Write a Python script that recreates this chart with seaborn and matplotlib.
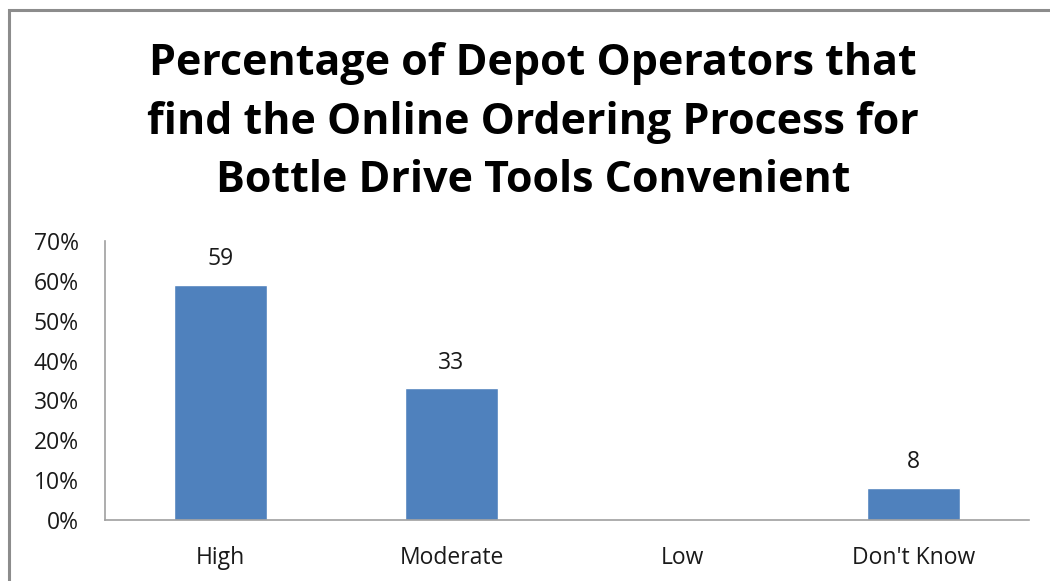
import matplotlib
matplotlib.use("Agg")
import matplotlib.pyplot as plt
from matplotlib.patches import Rectangle
import seaborn as sns
import pandas as pd

categories = ["High", "Moderate", "Low", "Don't Know"]
percentages = [59, 33, 0, 8]
value_labels = ["59", "33", "", "8"]
y_ticks = [0, 10, 20, 30, 40, 50, 60, 70]
tick_labels = ["0%", "10%", "20%", "30%", "40%", "50%", "60%", "70%"]
title = ("Percentage of Depot Operators that\n"
         "find the Online Ordering Process for\n"
         "Bottle Drive Tools Convenient")

bar_color = "#4F81BD"
axis_color = "#A0A0A0"
text_color = "#1A1A1A"

sns.set_theme(style="white")
plt.rcParams["font.family"] = ["Open Sans", "DejaVu Sans"]

df = pd.DataFrame({"category": categories, "pct": percentages})

W, H = 1050, 581
fig = plt.figure(figsize=(W / 100, H / 100), dpi=100)
fig.patch.set_facecolor("white")

# plot area in pixel terms
left, right, top, bottom = 105, 1029, 241, 520
ax = fig.add_axes([left / W, 1 - bottom / H, (right - left) / W, (bottom - top) / H])

sns.barplot(data=df, x="category", y="pct", color=bar_color, width=0.4,
            saturation=1, ax=ax)

fs = 16.5
ax.set_ylim(0, 70)
ax.set_xlim(-0.5, len(categories) - 0.5)
ax.set_yticks(y_ticks)
ax.set_yticklabels(tick_labels, fontsize=fs, color=text_color)
ax.tick_params(axis="x", labelsize=fs, colors=text_color, length=0, pad=19)
ax.tick_params(axis="y", length=0, pad=19)
ax.set_xlabel("")
ax.set_ylabel("")

for side in ("top", "right"):
    ax.spines[side].set_visible(False)
for side in ("left", "bottom"):
    ax.spines[side].set_color(axis_color)
    ax.spines[side].set_linewidth(1.2)

for i, (v, lab) in enumerate(zip(percentages, value_labels)):
    if lab:
        ax.annotate(lab, xy=(i, v), xytext=(0, 10), textcoords="offset points",
                    ha="center", va="bottom", fontsize=fs, color=text_color)

fig.text(533 / W, 1 - 122 / H, title, ha="center", va="center",
         fontsize=31, fontweight="bold", color="black", linespacing=1.47)

# outer chart frame
fig.patches.append(Rectangle((9 / W, -0.05), 1.1, 1 - 10 / H + 0.05,
                             transform=fig.transFigure, fill=False,
                             edgecolor="#8C8C8C", linewidth=2.2))

fig.savefig("out.png", dpi=100, facecolor="white")
